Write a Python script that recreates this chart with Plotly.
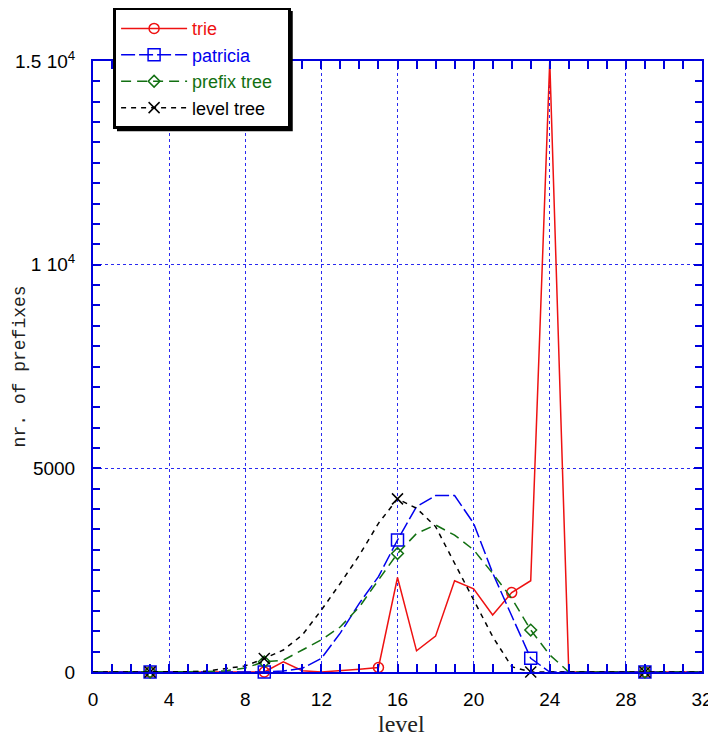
import plotly.graph_objects as go

levels = list(range(0, 33))

trie = [0, 0, 0, 0, 0, 0, 0, 0, 0, 0, 250, 30, 0, 30, 70, 110, 2320, 520, 880,
        2240, 2040, 1400, 1950, 2240, 15000, 0, 0, 0, 0, 0, 0, 0, 0]
patricia = [0, 0, 0, 0, 0, 0, 0, 0, 0, 0, 25, 90, 336, 960, 1690, 2340, 3240, 4060,
            4330, 4330, 3650, 2430, 1380, 336, 0, 0, 0, 0, 0, 0, 0, 0, 0]
prefix_tree = [0, 0, 0, 0, 0, 0, 10, 30, 100, 250, 290, 540, 790, 1110, 1600, 2260,
               2910, 3400, 3610, 3360, 3000, 2420, 1810, 1030, 420, 0, 0, 0, 0, 0, 0, 0, 0]
level_tree = [0, 0, 0, 0, 0, 5, 25, 80, 150, 330, 540, 910, 1520, 2180, 2870, 3650,
              4250, 4020, 3570, 2670, 1770, 870, 130, 0, 0, 0, 0, 0, 0, 0, 0, 0, 0]

# points that carry a marker
trie_marks = [3, 9, 15, 22, 29]
other_marks = [3, 9, 16, 23, 29]

ytick_vals = [0, 5000, 10000, 15000]
ytick_text = ["0", "5000", "1 10<sup>4</sup>", "1.5 10<sup>4</sup>"]
xtick_vals = list(range(0, 33, 4))

series = [
    ("trie", trie, trie_marks, "#ee1111", "solid", "circle-open", 10),
    ("patricia", patricia, other_marks, "#0000ee", "14px,4px", "square-open", 12),
    ("prefix tree\u00a0\u00a0", prefix_tree, other_marks, "#127012", "10px,6px", "diamond-open", 9),
    ("level tree", level_tree, other_marks, "#000000", "5px,5px", "x-thin-open", 11),
]

fig = go.Figure()

for name, vals, marks, color, dash, sym, size in series:
    fig.add_trace(go.Scatter(
        x=levels, y=vals, mode="lines", showlegend=False,
        line=dict(color=color, width=1.5, dash=dash)))
    fig.add_trace(go.Scatter(
        x=[levels[i] for i in marks], y=[vals[i] for i in marks], mode="markers",
        showlegend=False, cliponaxis=False,
        marker=dict(symbol=sym, size=size, color=color, line=dict(color=color, width=1.5))))
    # legend entry
    fig.add_trace(go.Scatter(
        x=[None], y=[None], mode="lines+markers",
        name="<span style='color:%s'>%s</span>" % (color, name),
        line=dict(color=color, width=1.5, dash=dash),
        marker=dict(symbol=sym, size=size, color=color, line=dict(color=color, width=1.5))))

axis_common = dict(
    showline=True, linecolor="#0000dd", linewidth=2, mirror="allticks",
    ticks="inside", tickcolor="#0000dd", tickwidth=1.5, ticklen=8,
    showgrid=True, gridcolor="#2a2af0", griddash="dot", gridwidth=1,
    zeroline=False,
    tickfont=dict(family="Liberation Sans", size=19, color="black"),
)

fig.update_xaxes(range=[0, 32], tickvals=xtick_vals, ticklabelstandoff=9,
                 minor=dict(dtick=1, ticks="inside", ticklen=8, tickcolor="#0000dd",
                            showgrid=False),
                 **axis_common)
fig.update_yaxes(range=[0, 15000], tickvals=ytick_vals, ticktext=ytick_text,
                 ticklabelstandoff=12,
                 minor=dict(dtick=500, ticks="inside", ticklen=7, tickcolor="#0000dd",
                            showgrid=False),
                 **axis_common)

fig.add_annotation(text="nr. of prefixes", xref="paper", yref="paper",
                   x=-0.12, y=0.50, xanchor="center", yanchor="middle",
                   textangle=-90, showarrow=False,
                   font=dict(family="Liberation Mono", size=18, color="#222"))
fig.add_annotation(text="level", xref="paper", yref="paper",
                   x=0.506, y=-0.085, xanchor="center", yanchor="middle",
                   showarrow=False,
                   font=dict(family="Liberation Serif", size=24, color="#222"))

# legend drop shadow
fig.add_shape(type="rect", xref="paper", yref="paper", layer="above",
              x0=0.0394, x1=0.328, y0=0.885, y1=1.082,
              fillcolor="black", line=dict(width=0))

# the page adds an 8px body margin, so the figure is shifted by 8px
fig.update_layout(
    width=708, height=729,
    margin=dict(l=85, r=14, t=53, b=65, autoexpand=False),
    plot_bgcolor="white", paper_bgcolor="white",
    legend=dict(x=0.033, y=1.088, xanchor="left", yanchor="top",
                bgcolor="white", bordercolor="black", borderwidth=3,
                font=dict(family="Liberation Sans", size=18),
                itemwidth=66, tracegroupgap=0),
)

fig.write_html("out.html")
